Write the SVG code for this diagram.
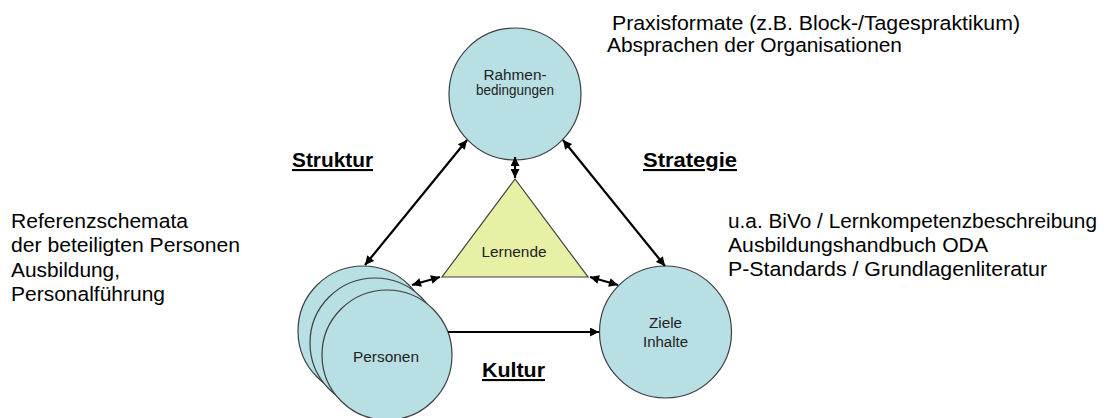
<svg xmlns="http://www.w3.org/2000/svg" width="1107" height="418" viewBox="0 0 1107 418">
<style>
.node{fill:#b8dfe3;stroke:#3f3f3f;stroke-width:1.2}
.tri{fill:#e8f0a6;stroke:#3f3f3f;stroke-width:1.2}
.lbl{font-family:"Liberation Sans",Arial,sans-serif;font-size:15.5px;fill:#222;text-anchor:middle}
.txt{font-family:"Liberation Sans",Arial,sans-serif;font-size:20.5px;fill:#000}
.hd{font-family:"Liberation Sans",Arial,sans-serif;font-size:21px;font-weight:bold;fill:#000;text-decoration:underline}
.con{stroke:#000;stroke-width:2.2;fill:none}
</style>
<defs>
<marker id="ah" viewBox="0 0 10 10" refX="10" refY="5" markerWidth="10" markerHeight="9" markerUnits="userSpaceOnUse" orient="auto-start-reverse">
<path d="M0,0 L10,5 L0,10 z" fill="#000"/>
</marker>
</defs>
<g id="rahmen">
<circle class="node" cx="515" cy="94" r="66"/>
<text class="lbl" x="515" y="80" textLength="63" lengthAdjust="spacingAndGlyphs">Rahmen-</text>
<text class="lbl" x="515" y="95" textLength="78" lengthAdjust="spacingAndGlyphs">bedingungen</text>
</g>
<g id="personen">
<circle class="node" cx="363" cy="331" r="65"/>
<circle class="node" cx="375" cy="343" r="65"/>
<circle class="node" cx="387" cy="355" r="65"/>
<text class="lbl" x="386" y="362" textLength="66" lengthAdjust="spacingAndGlyphs">Personen</text>
</g>
<g id="ziele">
<circle class="node" cx="665.5" cy="332" r="66"/>
<text class="lbl" x="665.5" y="328" textLength="33" lengthAdjust="spacingAndGlyphs">Ziele</text>
<text class="lbl" x="665.5" y="347" textLength="45" lengthAdjust="spacingAndGlyphs">Inhalte</text>
</g>
<g id="lernende">
<polygon class="tri" points="515,179 442,277 588,277"/>
<text class="lbl" x="514" y="257" textLength="65" lengthAdjust="spacingAndGlyphs">Lernende</text>
</g>
<g id="connectors">
<line class="con" x1="365" y1="265" x2="467" y2="140" marker-start="url(#ah)" marker-end="url(#ah)"/>
<line class="con" x1="563" y1="140" x2="665" y2="266" marker-start="url(#ah)" marker-end="url(#ah)"/>
<line class="con" x1="515" y1="157" x2="515" y2="178" marker-start="url(#ah)" marker-end="url(#ah)"/>
<line class="con" x1="412" y1="285" x2="440" y2="277" marker-start="url(#ah)" marker-end="url(#ah)"/>
<line class="con" x1="590" y1="277" x2="618" y2="285" marker-start="url(#ah)" marker-end="url(#ah)"/>
<line class="con" x1="448" y1="332" x2="599" y2="332" marker-end="url(#ah)"/>
</g>
<g id="labels">
<text class="hd" x="292" y="167" textLength="81" lengthAdjust="spacingAndGlyphs">Struktur</text>
<text class="hd" x="643" y="167" textLength="94" lengthAdjust="spacingAndGlyphs">Strategie</text>
<text class="hd" x="482" y="377" textLength="63" lengthAdjust="spacingAndGlyphs">Kultur</text>
</g>
<g id="notes">
<text class="txt" x="612" y="30" textLength="408" lengthAdjust="spacingAndGlyphs">Praxisformate (z.B. Block-/Tagespraktikum)</text>
<text class="txt" x="607" y="52" textLength="295" lengthAdjust="spacingAndGlyphs">Absprachen der Organisationen</text>
<text class="txt" x="728" y="228" textLength="369" lengthAdjust="spacingAndGlyphs">u.a. BiVo / Lernkompetenzbeschreibung</text>
<text class="txt" x="728" y="252" textLength="260" lengthAdjust="spacingAndGlyphs">Ausbildungshandbuch ODA</text>
<text class="txt" x="728" y="276" textLength="319" lengthAdjust="spacingAndGlyphs">P-Standards / Grundlagenliteratur</text>
<text class="txt" x="11" y="228" textLength="177" lengthAdjust="spacingAndGlyphs">Referenzschemata</text>
<text class="txt" x="11" y="252" textLength="229" lengthAdjust="spacingAndGlyphs">der beteiligten Personen</text>
<text class="txt" x="11" y="277" textLength="109" lengthAdjust="spacingAndGlyphs">Ausbildung,</text>
<text class="txt" x="11" y="301" textLength="154" lengthAdjust="spacingAndGlyphs">Personalführung</text>
</g>
</svg>
